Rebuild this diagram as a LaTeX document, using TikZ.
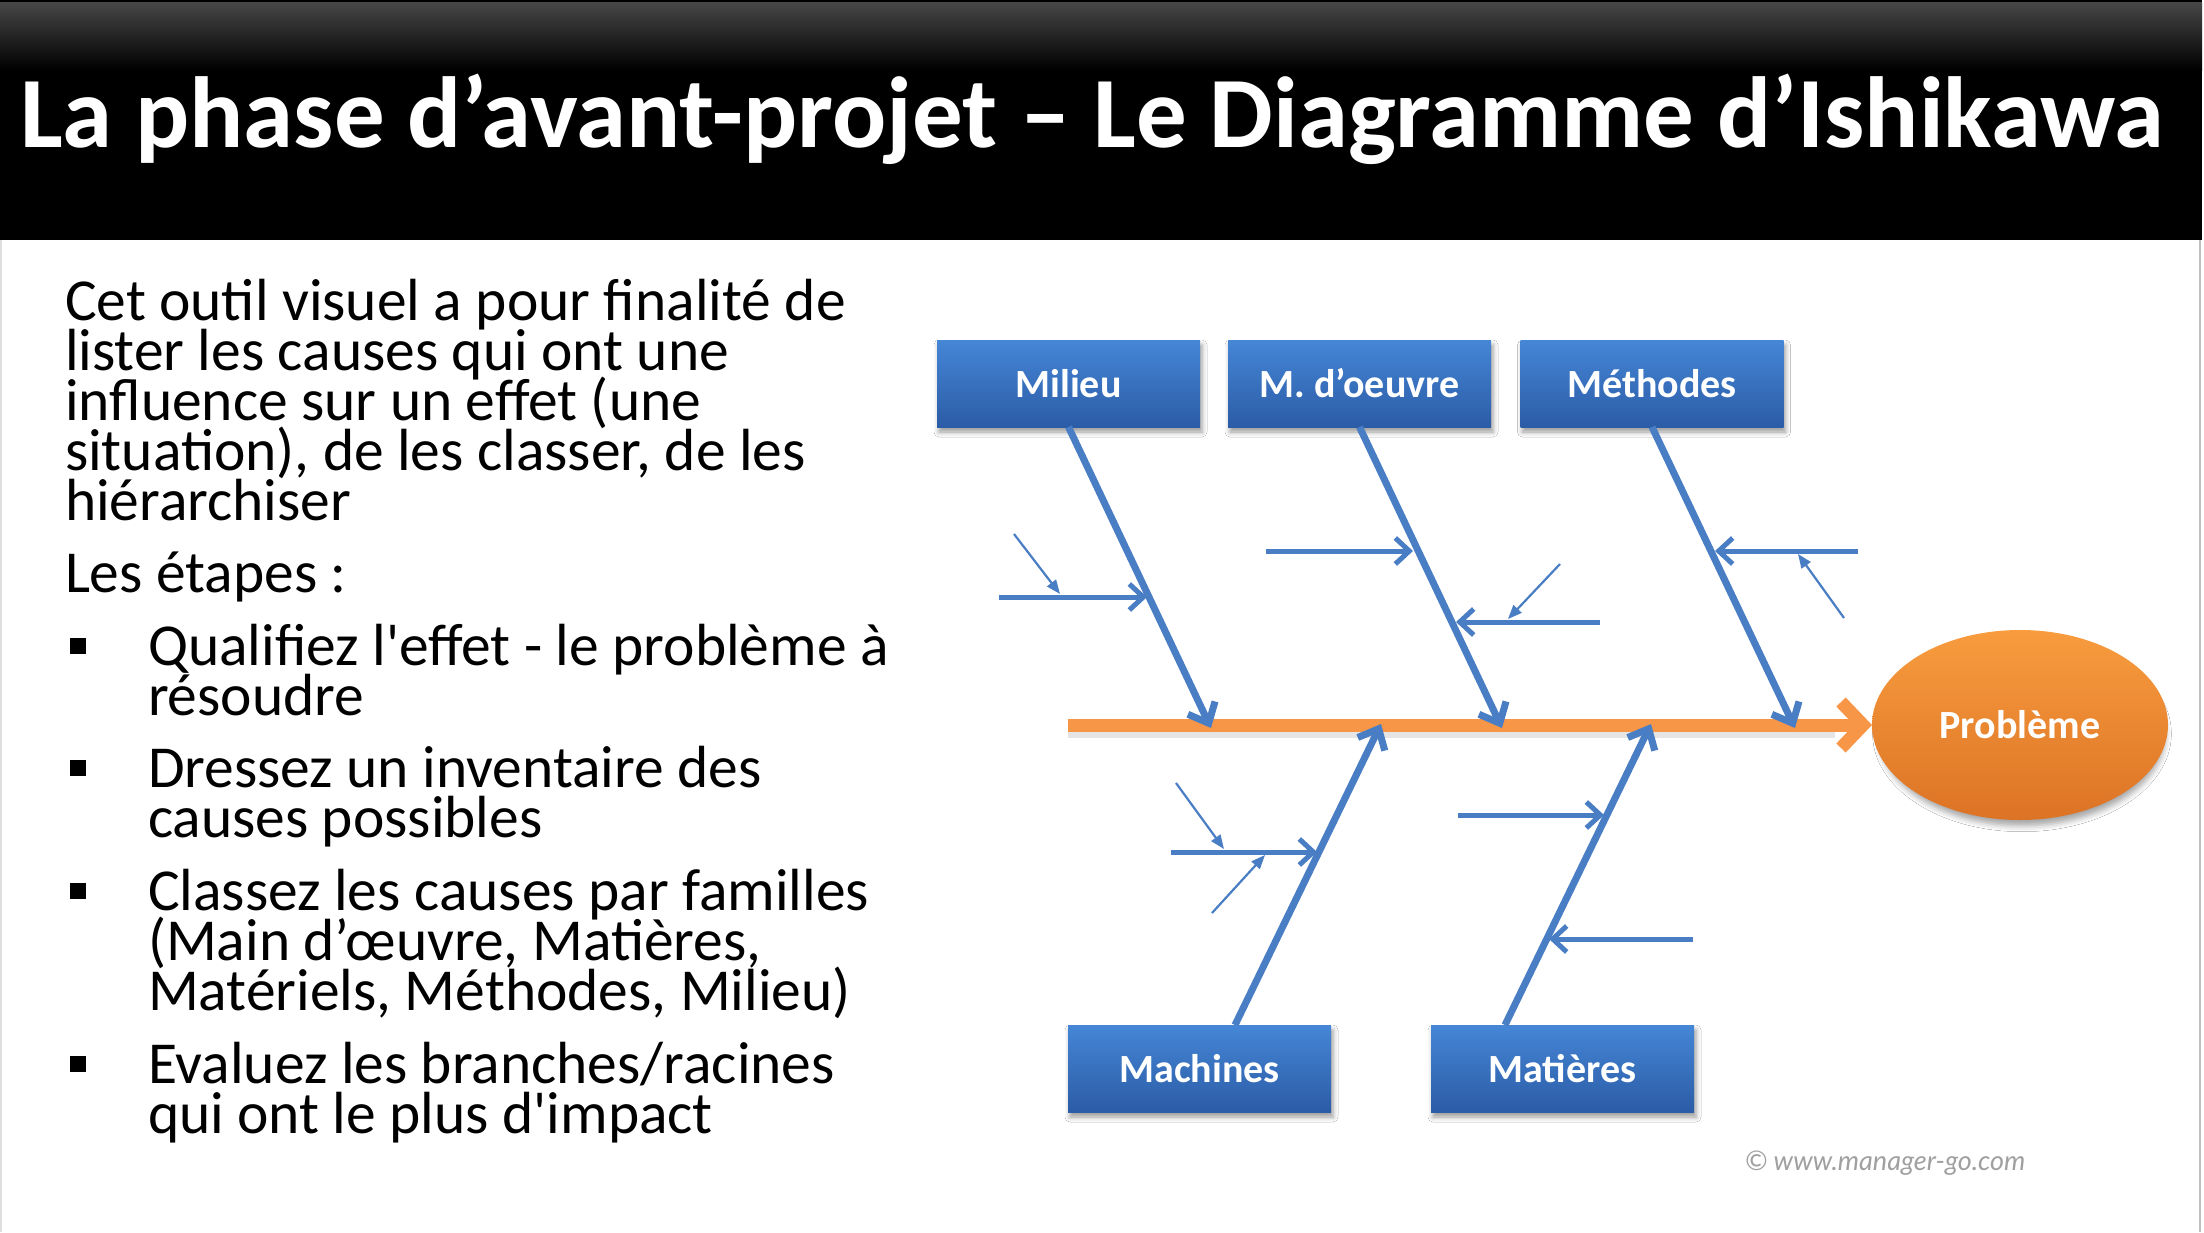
\documentclass[tikz,border=0pt]{standalone}
\usepackage{fontspec}
\setmainfont{Carlito}
\newfontfamily\creditfont{Lato}
\usetikzlibrary{arrows.meta,shadows.blur,shapes.geometric}

\definecolor{bonecol}{HTML}{4A7EC4}
\definecolor{spinecol}{HTML}{F79646}
\definecolor{boxtop}{HTML}{4586D6}
\definecolor{boxbot}{HTML}{2B5CA6}
\definecolor{ovaltop}{HTML}{F89C3E}
\definecolor{ovalbot}{HTML}{DC7325}
\definecolor{headtop}{HTML}{474747}
\definecolor{creditcol}{HTML}{A0A0A0}

\begin{document}
\begin{tikzpicture}[x=1pt,y=-1pt,
  every node/.style={inner sep=0pt, outer sep=0pt},
  bodytext/.style={anchor=base west, font=\fontsize{59.5}{50}\selectfont},
  bulletsq/.style={fill=black, minimum size=16pt},
  family/.style={rectangle, top color=boxtop, bottom color=boxbot,
    minimum width=263pt, minimum height=87pt, text=white,
    font=\fontsize{40}{40}\selectfont\bfseries,
    blur shadow={shadow xshift=2pt, shadow yshift=-5pt, shadow blur radius=5pt, shadow opacity=40}},
  effect/.style={ellipse, top color=ovaltop, bottom color=ovalbot,
    minimum width=296pt, minimum height=190pt, text=white,
    font=\fontsize{40}{40}\selectfont\bfseries,
    blur shadow={shadow xshift=2pt, shadow yshift=-9pt, shadow blur radius=6pt, shadow scale=0.97, shadow opacity=35}},
  spinearrow/.style={draw=spinecol, line width=13pt, -{Straight Barb[length=22pt,width=46pt]}},
  bonearrow/.style={draw=bonecol, line width=7pt, -{Straight Barb[length=17pt,width=30pt]}},
  subarrow/.style={draw=bonecol, line width=5pt, -{Straight Barb[length=14pt,width=26pt]}},
  twigarrow/.style={draw=bonecol, line width=2.2pt, -{Triangle[length=14pt,width=11pt]}},
]
\useasboundingbox (0,0) rectangle (2204,1232);
\fill[white] (0,0) rectangle (2204,1232);

% header band
\fill[black] (0,0) rectangle (2202,240);
\shade[top color=headtop, bottom color=black] (0,2) rectangle (2202,70);
\draw[gray!50, line width=2pt] (2200,240) -- (2200,1232);
\draw[gray!25, line width=1.5pt] (1,240) -- (1,1232);

\node[anchor=base west, text=white, font=\fontsize{101}{101}\selectfont\bfseries] (title) at (20,147)
  {La phase d’avant-projet – Le Diagramme d’Ishikawa};

% left column text
\node[bodytext] (p1) at (65,320) {Cet outil visuel a pour finalité de};
\node[bodytext] (p2) at (65,370) {lister les causes qui ont une};
\node[bodytext] (p3) at (65,420) {influence sur un effet (une};
\node[bodytext] (p4) at (65,470) {situation), de les classer, de les};
\node[bodytext] (p5) at (65,520) {hiérarchiser};
\node[bodytext] (steps) at (65,592) {Les étapes :};

\node[bulletsq] (b1) at (78,646) {};
\node[bodytext] (q1) at (148,665) {Qualifiez l\textquotesingle effet - le problème à};
\node[bodytext] (q2) at (148,715) {résoudre};
\node[bulletsq] (b2) at (78,768) {};
\node[bodytext] (r1) at (148,787) {Dressez un inventaire des};
\node[bodytext] (r2) at (148,837) {causes possibles};
\node[bulletsq] (b3) at (78,891) {};
\node[bodytext] (c1) at (148,910) {Classez les causes par familles};
\node[bodytext] (c2) at (148,960) {(Main d’œuvre, Matières,};
\node[bodytext] (c3) at (148,1010) {Matériels, Méthodes, Milieu)};
\node[bulletsq] (b4) at (78,1064) {};
\node[bodytext] (e1) at (148,1083) {Evaluez les branches/racines};
\node[bodytext] (e2) at (148,1133) {qui ont le plus d\textquotesingle impact};

% cause families
\node[family] (mil) at (1068.5,383.5) {Milieu};
\node[family] (mdo) at (1359.5,383.5) {M. d’oeuvre};
\node[family] (met) at (1652,383.5) {Méthodes};
\node[family] (mac) at (1199.5,1068.5) {Machines};
\node[family] (mat) at (1562.5,1068.5) {Matières};

% effect
\node[effect] (prob) at (2020,725) {Problème};

% spine
\coordinate (tail) at (1068,725);
\draw[black, opacity=0.10, line width=12pt] (1068,732) -- (1835,732);
\draw[spinearrow] (tail) -- (prob.west);

% joints on the spine
\coordinate (j1) at (1211,728);
\coordinate (j2) at (1502,728);
\coordinate (j3) at (1795,728);
\coordinate (j4) at (1381,724);
\coordinate (j5) at (1651,724);

% main bones
\draw[bonearrow] (mil.south) -- (j1);
\draw[bonearrow] (mdo.south) -- (j2);
\draw[bonearrow] (met.south) -- (j3);
\draw[bonearrow] ([xshift=35.5pt]mac.north) -- (j4);
\draw[bonearrow] ([xshift=-57.5pt]mat.north) -- (j5);

% secondary causes
\coordinate (a1s) at (999,597);  \coordinate (a1e) at (1147,597);
\coordinate (a2s) at (1266,551); \coordinate (a2e) at (1413,551);
\coordinate (a3s) at (1600,622); \coordinate (a3e) at (1456,622);
\coordinate (a4s) at (1858,551); \coordinate (a4e) at (1715,551);
\coordinate (a5s) at (1171,852); \coordinate (a5e) at (1317,852);
\coordinate (a6s) at (1458,815); \coordinate (a6e) at (1604,815);
\coordinate (a7s) at (1693,939); \coordinate (a7e) at (1549,939);
\draw[subarrow] (a1s) -- (a1e);
\draw[subarrow] (a2s) -- (a2e);
\draw[subarrow] (a3s) -- (a3e);
\draw[subarrow] (a4s) -- (a4e);
\draw[subarrow] (a5s) -- (a5e);
\draw[subarrow] (a6s) -- (a6e);
\draw[subarrow] (a7s) -- (a7e);

% tertiary causes
\coordinate (d1s) at (1014,534); \coordinate (d1e) at (1060,594);
\coordinate (d2s) at (1560,564); \coordinate (d2e) at (1508,619);
\coordinate (d3s) at (1844,618); \coordinate (d3e) at (1798,554);
\coordinate (d4s) at (1176,783); \coordinate (d4e) at (1224,849);
\coordinate (d5s) at (1212,913); \coordinate (d5e) at (1265,855);
\draw[twigarrow] (d1s) -- (d1e);
\draw[twigarrow] (d2s) -- (d2e);
\draw[twigarrow] (d3s) -- (d3e);
\draw[twigarrow] (d4s) -- (d4e);
\draw[twigarrow] (d5s) -- (d5e);

% credit line
\node[anchor=west, text=creditcol, font=\creditfont\itshape\fontsize{27}{27}\selectfont] (credit)
  at (1745,1163) {© www.manager-go.com};
\end{tikzpicture}
\end{document}
